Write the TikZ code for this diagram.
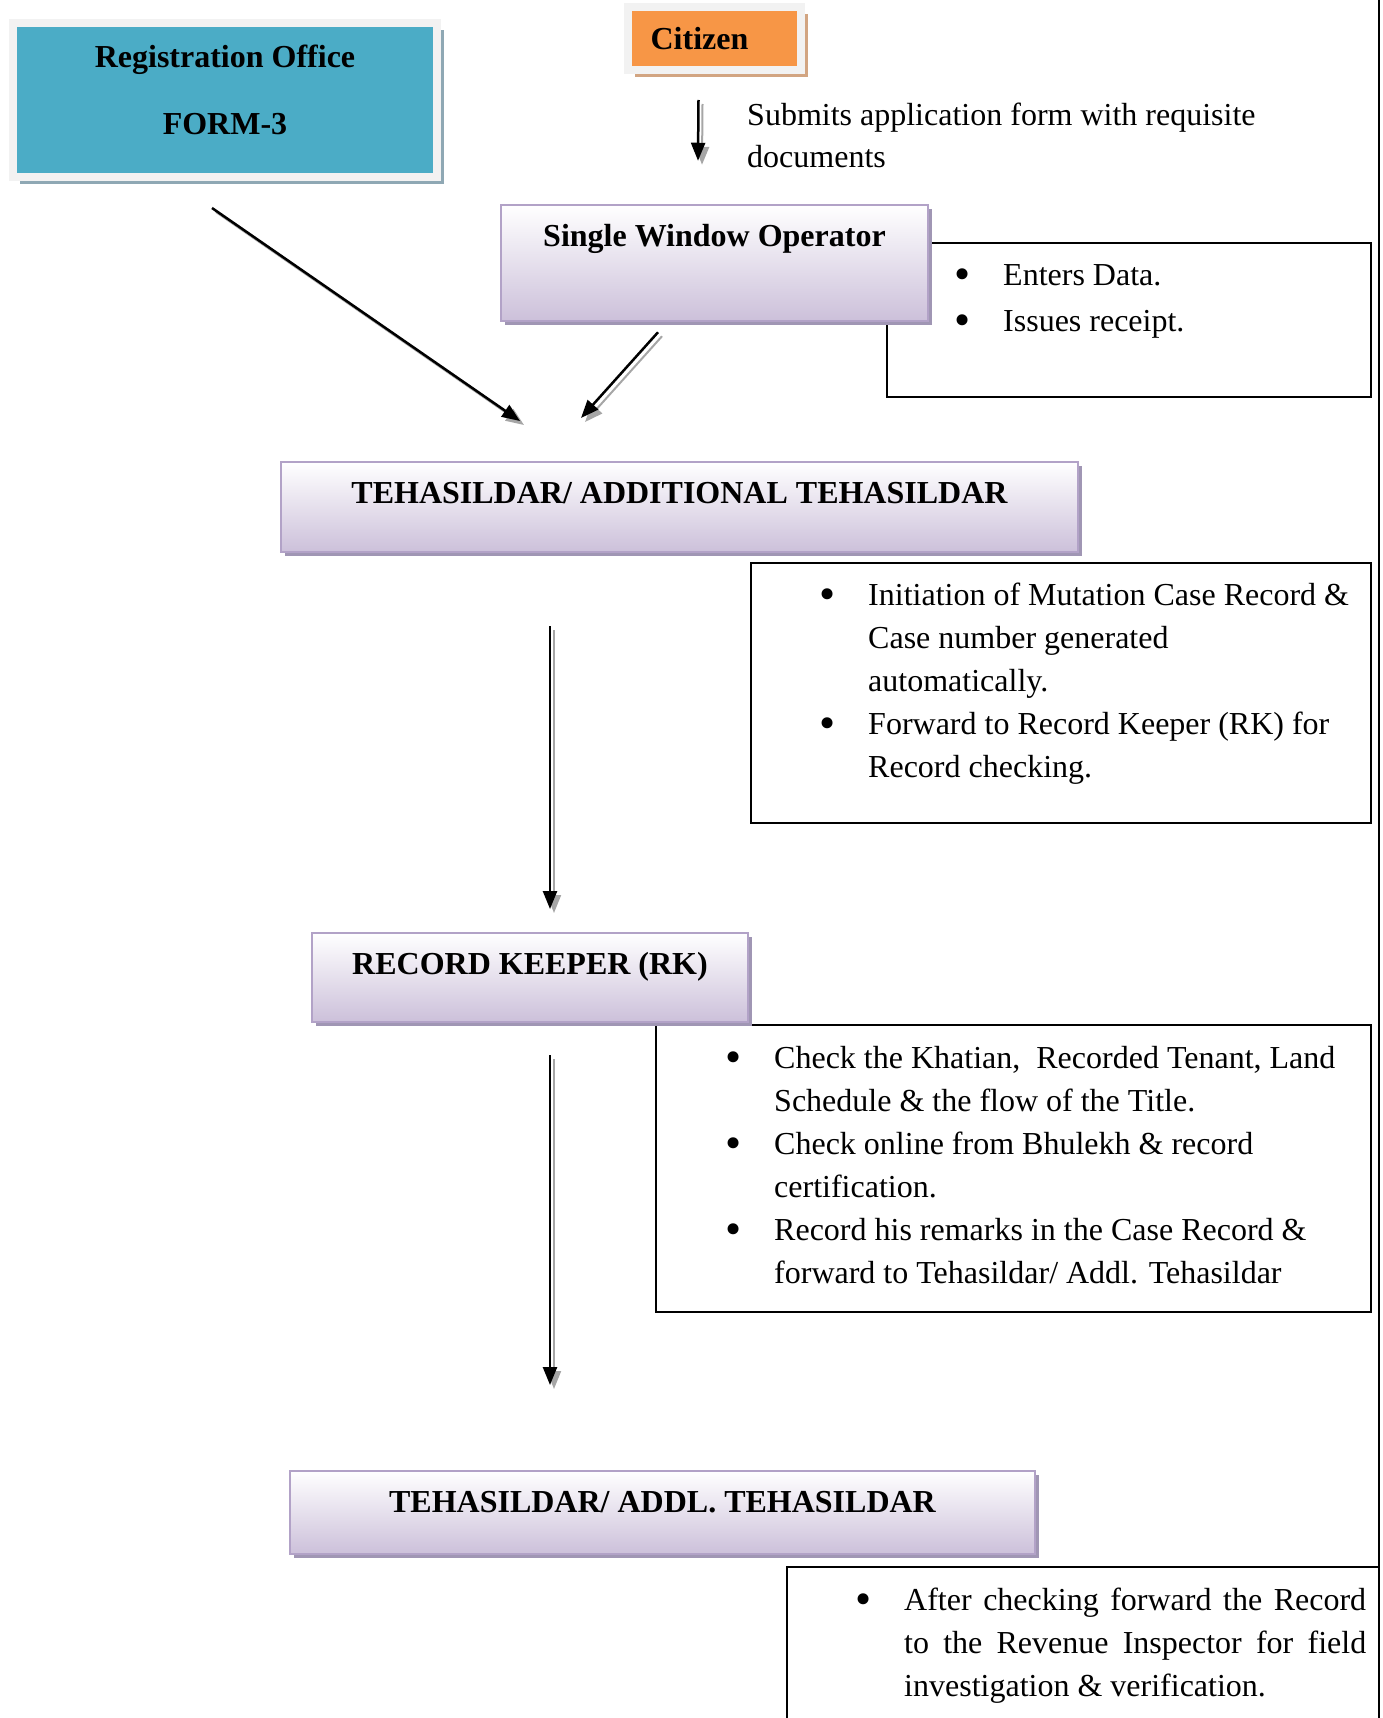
\documentclass[tikz,border=0pt]{standalone}
\usepackage{fontspec}
\setmainfont{Liberation Serif}
\usepackage{tikz}
\usetikzlibrary{shadows}
\usetikzlibrary{arrows.meta}
\usetikzlibrary{positioning}
\definecolor{regblue}{RGB}{ 75 172 198}
\definecolor{regshade}{RGB}{143 168 180}
\definecolor{citorange}{RGB}{247 150  70}
\definecolor{citshade}{RGB}{210 165 130}
\definecolor{framegray}{RGB}{242 242 242}
\definecolor{lilacline}{RGB}{178 162 199}
\definecolor{lilacfill}{RGB}{204 192 218}
\definecolor{lilacshade}{RGB}{160 150 180}
\newcommand{\bigfont}{\fontsize{32}{43}\selectfont}
\newcommand{\bul}{\leavevmode\llap{\raisebox{-4pt}{\fontsize{46}{43}\selectfont\textbullet}\hspace{33pt}}}
\tikzstyle{regbox} = [rectangle, minimum width=424pt, minimum height=154pt, align=center, draw=framegray, line width=8pt, fill=regblue, font=\bigfont\bfseries, drop shadow={shadow xshift=7pt, shadow yshift=-7pt, fill=regshade, opacity=1}]
\tikzstyle{citbox} = [rectangle, minimum width=173pt, minimum height=63pt, draw=framegray, line width=8pt, fill=citorange, font=\bigfont\bfseries, drop shadow={shadow xshift=7pt, shadow yshift=-7pt, fill=citshade, opacity=1}]
\tikzstyle{officer} = [rectangle, inner sep=0pt, text height=41.5pt, draw=lilacline, line width=2pt, top color=white, bottom color=lilacfill, font=\bigfont\bfseries, drop shadow={shadow xshift=4pt, shadow yshift=-4pt, fill=lilacshade, opacity=1}]
\tikzstyle{notebox} = [rectangle, draw=black, line width=2pt, fill=white]
\tikzstyle{plaintext} = [inner sep=0pt, text width=620pt, align=flush left, anchor=base west]
\tikzstyle{arrow} = [line width=2.5pt, -{Triangle[length=18pt,width=14pt]}]
\tikzstyle{arrowshade} = [line width=2pt, gray!70, -{Triangle[length=18pt,width=14pt]}, transform canvas={xshift=4pt,yshift=-4pt}]

\begin{document}
\begin{tikzpicture}[x=1pt, y=-1pt, font=\bigfont]
    \useasboundingbox (0,0) rectangle (1382,1718);
    \clip (0,0) rectangle (1382,1718);
        \node (n1) [notebox, minimum width=484pt, minimum height=154pt] at (1129,320) {};
        \node (n2) [notebox, minimum width=620pt, minimum height=260pt] at (1061,693) {};
        \node (n3) [notebox, minimum width=715pt, minimum height=287pt] at (1013.5,1168.5) {};
        \node (n4) [notebox, minimum width=592pt, minimum height=193pt] at (1083,1663.5) {};
        \node (reg) [regbox] at (225,100) {Registration Office\\[24pt]FORM-3\rule[-20pt]{0pt}{20pt}};
        \node (cit) [citbox] at (714.5,38.5) {Citizen\hspace*{30pt}};
        \node (swo) [officer, minimum width=427pt, text depth=75pt] at (714.5,263) {Single Window Operator};
        \node (teh) [officer, minimum width=797pt, text depth=48.5pt] at (679.5,507) {TEHASILDAR/ ADDITIONAL TEHASILDAR};
        \node (rk) [officer, minimum width=436pt, text depth=47.5pt] at (530,977.5) {RECORD KEEPER (RK)};
        \node (teh2) [officer, minimum width=745pt, text depth=41.5pt] at (662.5,1512.5) {TEHASILDAR/ ADDL. TEHASILDAR};
        \node (subm) [plaintext] at (747,125) {Submits application form with requisite\\[-1pt]documents};
        \node (n1t) [plaintext] at (1003,285) {\bul Enters Data.\\[3pt]\bul Issues receipt.};
        \node (n2t) [plaintext] at (868,605) {\bul Initiation of Mutation Case Record \&\\Case number generated\\automatically.\\\bul Forward to Record Keeper (RK) for\\Record checking.};
        \node (n3t) [plaintext] at (774,1068) {\bul Check the Khatian,\ \ Recorded Tenant, Land\\Schedule \& the flow of the Title.\\\bul Check online from Bhulekh \& record\\certification.\\\bul Record his remarks in the Case Record \&\\forward to Tehasildar/ Addl. Tehasildar};
        \node (n4t) [plaintext, text width=462pt, align=justify] at (904,1610) {\bul After checking forward the Record\linebreak to the Revenue Inspector for field\linebreak investigation \& verification.};
        \coordinate (c0a) at ([xshift=-16pt,yshift=-26pt]cit.south);
        \coordinate (c0b) at ([xshift=-16.5pt,yshift=43pt]swo.north);
        \coordinate (c1a) at ([xshift=-13pt,yshift=-27pt]reg.south);
        \coordinate (c1b) at ([xshift=-159.5pt,yshift=40pt]teh.north);
        \coordinate (c2a) at ([xshift=-56.5pt,yshift=-10pt]swo.south);
        \coordinate (c2b) at ([xshift=-98.5pt,yshift=43pt]teh.north);
        \coordinate (c3a) at ([xshift=-129.5pt,yshift=-73pt]teh.south);
        \coordinate (c3b) at ([xshift=20pt,yshift=23pt]rk.north);
        \coordinate (c4a) at ([xshift=20pt,yshift=-32pt]rk.south);
        \coordinate (c4b) at ([xshift=-112.5pt,yshift=85pt]teh2.north);
        \draw [arrowshade] (c0a) -- (c0b);
        \draw [arrow] (c0a) -- (c0b);
        \draw [arrowshade] (c1a) -- (c1b);
        \draw [arrow] (c1a) -- (c1b);
        \draw [arrowshade] (c2a) -- (c2b);
        \draw [arrow] (c2a) -- (c2b);
        \draw [arrowshade] (c3a) -- (c3b);
        \draw [arrow] (c3a) -- (c3b);
        \draw [arrowshade] (c4a) -- (c4b);
        \draw [arrow] (c4a) -- (c4b);
        \draw [line width=2pt] (1379,0) -- (1379,1718);
\end{tikzpicture}
\end{document}
